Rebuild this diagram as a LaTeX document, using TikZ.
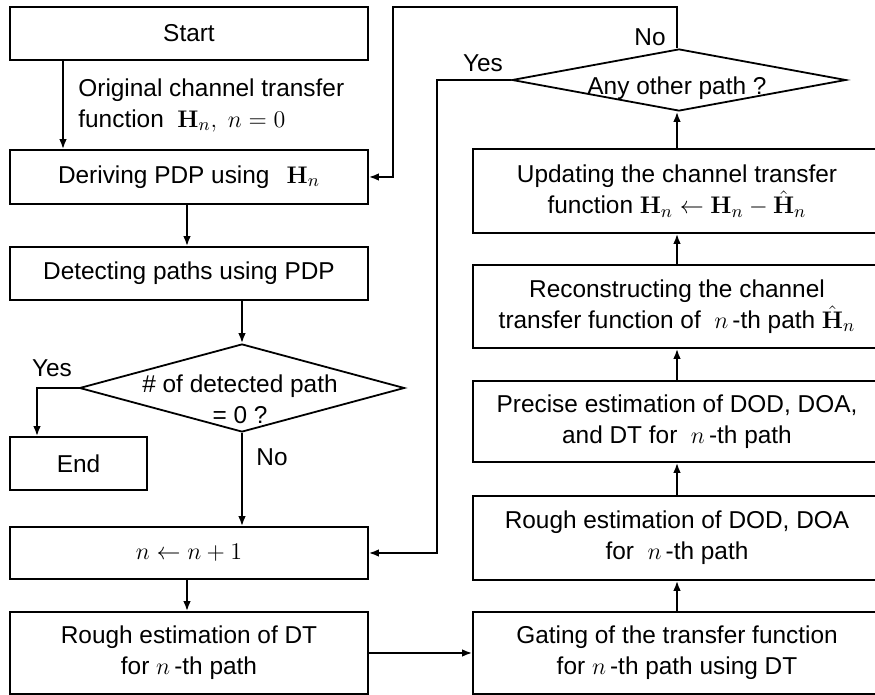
\documentclass[tikz,border=0pt]{standalone}
\usepackage[no-math]{fontspec}
\setmainfont{Liberation Sans}
\usetikzlibrary{arrows.meta,shapes.geometric,calc}

\begin{document}
\begin{tikzpicture}[x=0.5pt,y=-0.5pt,
  every node/.style={font=\fontsize{12.2}{15.5}\selectfont},
  flowbox/.style={draw, line width=0.9pt, inner sep=0pt, align=center},
  decision/.style={draw, diamond, line width=0.9pt, inner sep=0pt},
  link/.style={line width=0.9pt, -{Latex[length=5pt,width=3.8pt]}},
  tag/.style={inner sep=0pt, align=center}]

\useasboundingbox (0,0) rectangle (875,695);

% left column
\node[flowbox, minimum width=179pt, minimum height=26.5pt] (start) at (189,33.5) {Start};
\node[flowbox, minimum width=179pt, minimum height=27pt] (derive) at (189,177) {Deriving PDP using\hspace{0.7em}$\mathbf{H}_n$};
\node[flowbox, minimum width=179pt, minimum height=26.5pt] (detect) at (189,273.5) {Detecting paths using PDP};
\node[decision, minimum width=162.5pt, minimum height=44pt] (dec1) at (242,388) {};
\node[tag] (dec1txt) at (240,399) {\# of detected path\\= 0 ?};
\node[flowbox, minimum width=68.5pt, minimum height=26.5pt] (end) at (78.5,463.5) {End};
\node[flowbox, minimum width=179pt, minimum height=26pt] (nbox) at (189,553) {$n \leftarrow n+1$};
\node[flowbox, minimum width=179pt, minimum height=41pt] (roughdt) at (189,653) {Rough estimation of DT\\for $n$\,-th path};

% right column
\node[flowbox, minimum width=204pt, minimum height=41pt] (gating) at (677,653) {Gating of the transfer function\\for $n$\,-th path using DT};
\node[flowbox, minimum width=204pt, minimum height=42pt] (roughdod) at (677,538) {Rough estimation of DOD, DOA\\for\ \ $n$\,-th path};
\node[flowbox, minimum width=204pt, minimum height=40.5pt] (precise) at (677,421.5) {Precise estimation of DOD, DOA,\\and DT for\ \ $n$\,-th path};
\node[flowbox, minimum width=204pt, minimum height=41.5pt] (recon) at (677,306.5) {Reconstructing the channel\\transfer function of\ \ $n$\,-th path $\hat{\mathbf{H}}_n$};
\node[flowbox, minimum width=204pt, minimum height=42pt] (update) at (677,191) {Updating the channel transfer\\function $\mathbf{H}_n \leftarrow \mathbf{H}_n - \hat{\mathbf{H}}_n$};
\node[decision, minimum width=167pt, minimum height=31pt] (dec2) at (679,80) {};
\node[tag] (dec2txt) at (677,88) {Any other path ?};

% branch labels
\node[tag, anchor=west, align=left] (origlbl) at (78,105) {Original channel transfer\\function\ \ $\mathbf{H}_n,\ n=0$};
\node[tag] (yes1) at (52,368) {Yes};
\node[tag] (no1) at (272,457) {No};
\node[tag] (no2) at (650,37) {No};
\node[tag] (yes2) at (483,63) {Yes};

% column guides and turning points
\coordinate (c63) at (63,0);
\coordinate (c187) at (187,0);
\coordinate (c37) at (37,0);
\coordinate (noturn) at (393,7);
\coordinate (yesturn) at (437,80);

% connectors
\draw[link] (start.south -| c63) -- (derive.north -| c63);
\draw[link] (derive.south -| c187) -- (detect.north -| c187);
\draw[link] (detect.south -| dec1.north) -- (dec1.north);
\draw[link] (dec1.west) -| (end.north -| c37);
\draw[link] (dec1.south) -- (dec1.south |- nbox.north);
\draw[link] (nbox.south -| c187) -- (roughdt.north -| c187);
\draw[link] (roughdt.east) -- (gating.west);
\draw[link] (gating.north) -- (roughdod.south);
\draw[link] (roughdod.north) -- (precise.south);
\draw[link] (precise.north) -- (recon.south);
\draw[link] (recon.north) -- (update.south);
\draw[link] (update.north) -- (update.north |- dec2.south);
\draw[link] (dec2.north -| update.north) |- (noturn) |- (derive.east);
\draw[link] (dec2.west) -- (yesturn) |- (nbox.east);
\end{tikzpicture}
\end{document}
